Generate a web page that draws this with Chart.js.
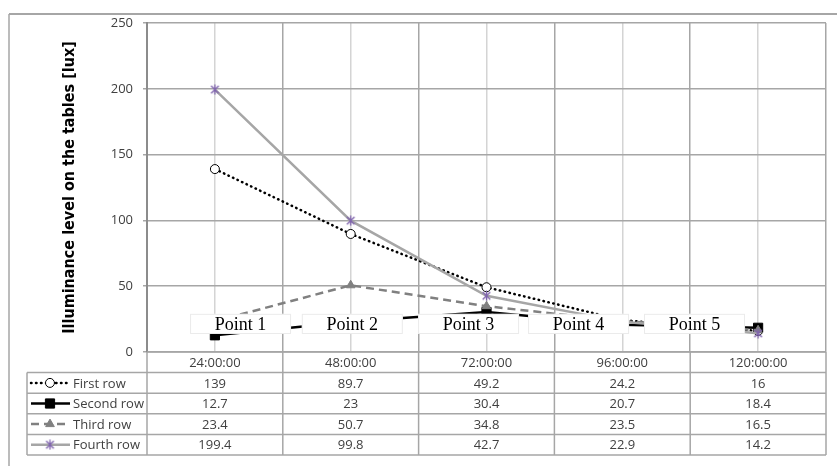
<!DOCTYPE html>
<html>
<head>
<meta charset="utf-8">
<script src="https://cdn.jsdelivr.net/npm/chart.js@4/dist/chart.umd.min.js"></script>
<style>
  html, body { margin: 0; padding: 0; background: #fff; }
  #wrap { width: 837px; height: 466px; position: relative; }
</style>
</head>
<body>
<div id="wrap"><canvas id="lightChart"></canvas></div>
<script>
const times = ['24:00:00', '48:00:00', '72:00:00', '96:00:00', '120:00:00'];
const seriesNames = ['First row', 'Second row', 'Third row', 'Fourth row'];
const firstRow = [139, 89.7, 49.2, 24.2, 16];
const secondRow = [12.7, 23, 30.4, 20.7, 18.4];
const thirdRow = [23.4, 50.7, 34.8, 23.5, 16.5];
const fourthRow = [199.4, 99.8, 42.7, 22.9, 14.2];
const pointLabels = ['Point 1', 'Point 2', 'Point 3', 'Point 4', 'Point 5'];
const yTicks = [0, 50, 100, 150, 200, 250];

const textColor = '#404040';
const tableFont = '13px "Open Sans", sans-serif';

// Where the "Point n" boxes sit (in category widths from the left edge of the plot)
const labelOffsets = [0.317, 1.14, 1.996, 2.806, 3.66];

// Excel-like "star" marker: an X with a vertical stroke
function makeStar(size, color) {
  const c = document.createElement('canvas');
  c.width = size;
  c.height = size;
  const g = c.getContext('2d');
  const m = size / 2, r = size / 2 - 1;
  g.strokeStyle = color;
  g.lineWidth = 1.3;
  g.beginPath();
  g.moveTo(m - r * 0.85, m - r * 0.85); g.lineTo(m + r * 0.85, m + r * 0.85);
  g.moveTo(m + r * 0.85, m - r * 0.85); g.lineTo(m - r * 0.85, m + r * 0.85);
  g.moveTo(m, 0.5); g.lineTo(m, size - 0.5);
  g.stroke();
  return c;
}
const starMarker = makeStar(11, '#7f63ad');

// Outer frame, table under the plot and the "Point" text boxes
const extrasPlugin = {
  id: 'extras',
  beforeDraw(chart) {
    const ctx = chart.ctx;
    ctx.save();
    ctx.strokeStyle = '#a6a6a6';
    ctx.lineWidth = 2;
    ctx.beginPath();
    ctx.moveTo(9, 14);
    ctx.lineTo(chart.width, 14);
    ctx.stroke();
    ctx.lineWidth = 1.5;
    ctx.beginPath();
    ctx.moveTo(9, 14);
    ctx.lineTo(9, chart.height);
    ctx.stroke();
    ctx.restore();
  },
  afterDatasetsDraw(chart) {
    const ctx = chart.ctx, area = chart.chartArea, y = chart.scales.y;
    const catW = (area.right - area.left) / times.length;
    const top = y.getPixelForValue(29), bottom = y.getPixelForValue(13.7);
    ctx.save();
    ctx.font = '18px "Liberation Serif", "Times New Roman", serif';
    ctx.textAlign = 'center';
    ctx.textBaseline = 'middle';
    pointLabels.forEach((txt, i) => {
      const bx = area.left + labelOffsets[i] * catW;
      const bw = 101;
      ctx.fillStyle = '#fff';
      ctx.fillRect(bx, top, bw, bottom - top);
      ctx.strokeStyle = '#ebebeb';
      ctx.lineWidth = 1;
      ctx.strokeRect(bx + 0.5, top + 0.5, bw - 1, bottom - top - 1);
      ctx.fillStyle = '#000';
      ctx.fillText(txt, bx + bw / 2, (top + bottom) / 2 + 1);
    });
    ctx.restore();
  },
  afterDraw(chart) {
    const ctx = chart.ctx, area = chart.chartArea, x = chart.scales.x;
    const rowH = 20.6;
    const top = area.bottom;
    const tableLeft = 27;
    const catW = (area.right - area.left) / times.length;
    const nRows = seriesNames.length;
    const bottom = top + rowH * (nRows + 1);

    ctx.save();
    ctx.strokeStyle = '#a6a6a6';
    ctx.lineWidth = 1.5;
    // horizontal lines
    for (let r = 0; r <= nRows + 1; r++) {
      const yy = top + r * rowH;
      ctx.beginPath();
      ctx.moveTo(r === 0 ? area.left : tableLeft, yy);
      ctx.lineTo(area.right, yy);
      ctx.stroke();
    }
    // vertical lines
    ctx.beginPath();
    ctx.moveTo(tableLeft, top + rowH);
    ctx.lineTo(tableLeft, bottom);
    ctx.stroke();
    for (let c = 0; c <= times.length; c++) {
      const xx = area.left + c * catW;
      ctx.beginPath();
      ctx.moveTo(xx, top);
      ctx.lineTo(xx, bottom);
      ctx.stroke();
    }

    // header and values
    ctx.font = tableFont;
    ctx.fillStyle = textColor;
    ctx.textAlign = 'center';
    ctx.textBaseline = 'middle';
    times.forEach((t, i) => {
      ctx.fillText(t, x.getPixelForValue(i), top + rowH / 2 + 1);
    });
    chart.data.datasets.forEach((ds, r) => {
      const cy = top + rowH * (r + 1.5) + 1;
      ds.data.forEach((v, i) => {
        ctx.fillText(String(v), x.getPixelForValue(i), cy);
      });
    });

    // legend keys in the first column
    chart.data.datasets.forEach((ds, r) => {
      const cy = top + rowH * (r + 1.5);
      ctx.save();
      ctx.strokeStyle = ds.borderColor;
      ctx.lineWidth = ds.borderWidth;
      ctx.setLineDash(ds.borderDash || []);
      ctx.lineCap = ds.borderCapStyle || 'butt';
      ctx.beginPath();
      ctx.moveTo(31, cy);
      ctx.lineTo(70, cy);
      ctx.stroke();
      ctx.setLineDash([]);
      ctx.fillStyle = ds.pointBackgroundColor;
      ctx.strokeStyle = ds.pointBorderColor;
      ctx.lineWidth = ds.pointBorderWidth;
      Chart.helpers.drawPoint(ctx, {
        pointStyle: ds.pointStyle,
        radius: ds.pointRadius,
        rotation: 0,
        borderWidth: ds.pointBorderWidth
      }, 50, cy);
      ctx.restore();
      ctx.font = tableFont;
      ctx.fillStyle = textColor;
      ctx.textAlign = 'left';
      ctx.fillText(seriesNames[r], 73, cy + 1);
    });
    ctx.restore();
  }
};

const ctx = document.getElementById('lightChart').getContext('2d');

const lightChart = new Chart(ctx, {
  type: 'line',
  data: {
    labels: times,
    datasets: [{
      label: seriesNames[0],
      data: firstRow,
      borderColor: '#000',
      borderWidth: 2.5,
      borderDash: [0.5, 4.5],
      borderCapStyle: 'round',
      pointStyle: 'circle',
      pointRadius: 4.5,
      pointBackgroundColor: '#fff',
      pointBorderColor: '#000',
      pointBorderWidth: 1,
      order: 4
    }, {
      label: seriesNames[1],
      data: secondRow,
      borderColor: '#000',
      borderWidth: 2.5,
      pointStyle: 'rect',
      pointRadius: 6.5,
      pointBackgroundColor: '#000',
      pointBorderColor: '#000',
      pointBorderWidth: 1,
      order: 3
    }, {
      label: seriesNames[2],
      data: thirdRow,
      borderColor: '#808080',
      borderWidth: 2.5,
      borderDash: [8, 5],
      pointStyle: 'triangle',
      pointRadius: 5,
      pointBackgroundColor: '#808080',
      pointBorderColor: '#808080',
      pointBorderWidth: 1,
      order: 2
    }, {
      label: seriesNames[3],
      data: fourthRow,
      borderColor: '#a6a6a6',
      borderWidth: 2.5,
      pointStyle: starMarker,
      pointRadius: 5,
      pointBackgroundColor: '#7f63ad',
      pointBorderColor: '#7f63ad',
      pointBorderWidth: 1,
      order: 1
    }]
  },
  options: {
    responsive: true,
    maintainAspectRatio: false,
    animation: false,
    events: [],
    layout: {
      padding: { left: 0, right: 11, top: 23, bottom: 114 }
    },
    plugins: {
      legend: { display: false },
      tooltip: { enabled: false }
    },
    elements: {
      line: { tension: 0, fill: false }
    },
    scales: {
      x: {
        offset: true,
        ticks: { display: false },
        grid: { offset: true, color: '#a6a6a6', lineWidth: 1.5, drawTicks: false },
        border: { display: false }
      },
      x2: {
        type: 'category',
        labels: times,
        position: 'bottom',
        offset: true,
        ticks: { display: false },
        grid: { offset: false, color: '#d4d4d4', lineWidth: 1.5, drawTicks: false },
        border: { display: false }
      },
      y: {
        min: 0,
        max: 250,
        afterBuildTicks(scale) {
          scale.ticks = yTicks.map(v => ({ value: v }));
        },
        afterFit(scale) {
          scale.width = 147;
        },
        ticks: {
          color: textColor,
          font: { family: '"Open Sans", sans-serif', size: 13 },
          padding: 10
        },
        grid: { color: '#a6a6a6', lineWidth: 1.5, tickLength: 4 },
        border: { color: '#8c8c8c', width: 2 },
        title: {
          display: true,
          text: 'Illuminance level on the tables [lux]',
          color: '#000',
          font: { family: '"Liberation Sans Narrow", "DejaVu Sans Condensed", sans-serif', size: 16, weight: 'bold' },
          padding: { top: 60, bottom: 0 }
        }
      }
    }
  },
  plugins: [extrasPlugin]
});
</script>
</body>
</html>
